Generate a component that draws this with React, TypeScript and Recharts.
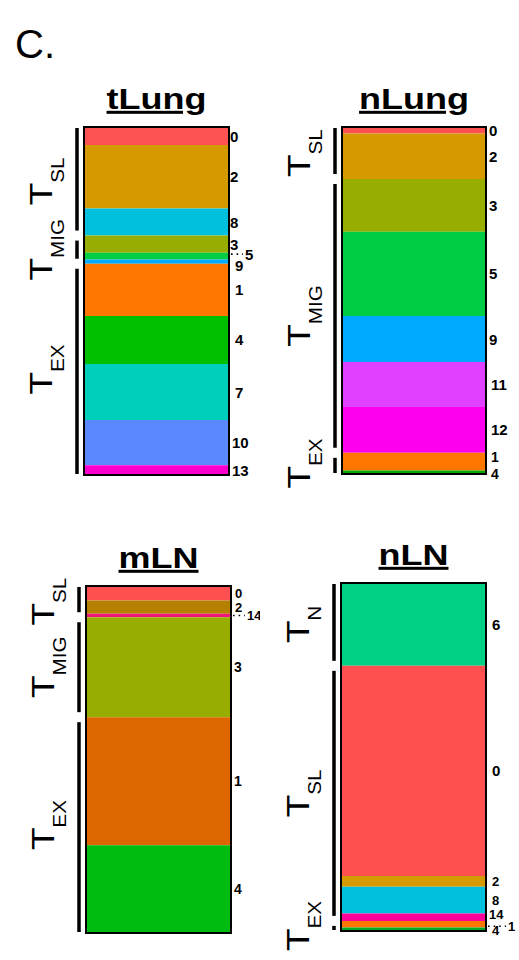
import React from 'react';
import { BarChart, Bar, XAxis, YAxis, ReferenceArea, LabelList } from 'recharts';

const FONT = '"Liberation Sans", Arial, Helvetica, sans-serif';

// clusters listed top to bottom, share in % of cells
const tLungClusters = ['0', '2', '8', '3', '5', '9', '1', '4', '7', '10', '13'];
const tLungShare = [5.2, 18.2, 7.8, 4.9, 2.0, 1.2, 15.0, 13.8, 16.1, 13.0, 2.8];
const tLungColors = ['#ff5252', '#d59a00', '#00c0dd', '#97ad00', '#00cc44', '#00aaff', '#ff7700', '#00c000', '#00d0bb', '#5c88ff', '#ff00cc'];
const tLungGroups = [
  { name: 'SL', clusters: ['0', '2', '8'] },
  { name: 'MIG', clusters: ['3', '5', '9'] },
  { name: 'EX', clusters: ['1', '4', '7', '10', '13'] },
];

const nLungClusters = ['0', '2', '3', '5', '9', '11', '12', '1', '4'];
const nLungShare = [1.9, 13.1, 15.2, 24.3, 13.2, 13.0, 13.2, 5.1, 1.0];
const nLungColors = ['#ff5050', '#d59a00', '#97ad00', '#00cc44', '#00aaff', '#e040ff', '#ff00ee', '#ff7700', '#00aa00'];
const nLungGroups = [
  { name: 'SL', clusters: ['0', '2'] },
  { name: 'MIG', clusters: ['3', '5', '9', '11', '12'] },
  { name: 'EX', clusters: ['1', '4'] },
];

const mLNClusters = ['0', '2', '14', '3', '1', '4'];
const mLNShare = [4.2, 3.8, 1.0, 28.8, 36.9, 25.3];
const mLNColors = ['#ff5050', '#b58000', '#f0157a', '#97ae00', '#dd6600', '#00bb10'];
const mLNGroups = [
  { name: 'SL', clusters: ['0', '2', '14'] },
  { name: 'MIG', clusters: ['3'] },
  { name: 'EX', clusters: ['1', '4'] },
];

const nLNClusters = ['6', '0', '2', '8', '14', '1', '4'];
const nLNShare = [23.8, 60.4, 3.1, 7.7, 2.1, 1.9, 1.0];
const nLNColors = ['#00d084', '#ff5050', '#d59a00', '#00c0dd', '#ff0099', '#ff7700', '#00aa22'];
const nLNGroups = [
  { name: 'N', clusters: ['6'] },
  { name: 'SL', clusters: ['0', '2', '8', '14'] },
  { name: 'EX', clusters: ['1', '4'] },
];

// label tweaks for crowded segments
const tLungNudge = {
  '0': { dx: 1 }, '2': { dx: 1 }, '8': { dx: 1 }, '3': { dx: 1 },
  '5': { dx: 16, dy: -2, dots: true },
  '9': { dx: 6, dy: 4 },
  '1': { dx: 6 }, '4': { dx: 6 }, '7': { dx: 6 },
};
const nLungNudge = { '11': { dx: 5 }, '12': { dx: 5 }, '1': { dx: 5, dy: -5, size: 14 }, '4': { dx: 5, dy: 2, size: 14 } };
const mLNNudge = { '0': { dx: 4, size: 13 }, '2': { dx: 4, size: 13 }, '14': { dx: 16, size: 13, dots: true } };
const nLNNudge = {
  '6': { dx: 6 }, '0': { dx: 6 },
  '2': { dx: 6, size: 13 }, '8': { dx: 6, size: 13 },
  '14': { dx: 3, dy: -3, size: 13 },
  '1': { dx: 22, dy: 2, size: 13, dots: true },
  '4': { dx: 6, dy: 1, size: 13 },
};

const TitleTick = (props: any) => {
  const { x, y, payload } = props;
  return (
    <g transform={`translate(${x},${y - 18}) scale(1.2,1)`}>
      <text textAnchor="middle" fontSize={30} fontWeight="bold" fontFamily={FONT} fill="#000" textDecoration="underline">
        {payload.value}
      </text>
    </g>
  );
};

const segLabel = (cluster: string, nudge: any, size: number) => (props: any) => {
  const vb = props.viewBox && props.viewBox.width !== undefined ? props.viewBox : props;
  const right = vb.x + vb.width;
  const cy = vb.y + vb.height / 2 + (nudge?.dy ?? 0);
  const dx = nudge?.dx ?? 3;
  return (
    <g>
      {nudge?.dots && (
        <line x1={right + 2} x2={right + dx - 2} y1={cy} y2={cy} stroke="#000" strokeWidth={1.6} strokeDasharray="1.6 4" />
      )}
      <text x={right + dx} y={cy} dominantBaseline="central" fontSize={nudge?.size ?? size} fontWeight="bold" fontFamily={FONT} fill="#000">
        {cluster}
      </text>
    </g>
  );
};

const Bracket = (props: any) => {
  const { x, y, height, name, first, last } = props;
  const top = Math.min(y, y + height);
  const bottom = Math.max(y, y + height);
  const y1 = top + (first ? 1 : 5);
  const y2 = bottom - (last ? 1 : 5);
  const bx = x - 7;
  const cy = (top + bottom) / 2;
  return (
    <g>
      <line x1={bx} x2={bx} y1={y1} y2={y2} stroke="#000" strokeWidth={3.5} />
      <text
        transform={`translate(${bx - 25},${cy}) rotate(-90) scale(1.15,1)`}
        textAnchor="middle"
        fontSize={32}
        fontFamily={FONT}
        fill="#000"
      >
        T<tspan fontSize={18} dy={12}>{name}</tspan>
      </text>
    </g>
  );
};

type PanelProps = {
  sample: string;
  clusters: string[];
  share: number[];
  colors: string[];
  groups: { name: string; clusters: string[] }[];
  nudge: any;
  labelSize: number;
  box: { left: number; top: number; width: number; height: number };
  margin: { top: number; right: number; bottom: number; left: number };
};

const Panel = ({ sample, clusters, share, colors, groups, nudge, labelSize, box, margin }: PanelProps) => {
  const row: any = { sample };
  clusters.forEach((c, i) => (row[`c${c}`] = share[i]));

  let acc = 0;
  const spans = groups.map((g) => {
    const start = acc;
    g.clusters.forEach((c) => (acc += share[clusters.indexOf(c)]));
    return { name: g.name, start, end: acc };
  });

  return (
    <div style={{ position: 'absolute', left: box.left, top: box.top }}>
      <BarChart width={box.width} height={box.height} data={[row]} margin={margin} barCategoryGap={0}>
        <XAxis
          dataKey="sample"
          orientation="top"
          height={30}
          axisLine={false}
          tickLine={false}
          tickSize={0}
          tickMargin={0}
          interval={0}
          tick={TitleTick}
        />
        <YAxis type="number" domain={[0, 100]} reversed hide />
        {clusters.map((c, i) => (
          <Bar key={c} dataKey={`c${c}`} stackId="s" fill={colors[i]} isAnimationActive={false}>
            <LabelList dataKey={`c${c}`} content={segLabel(c, nudge[c], labelSize)} />
          </Bar>
        ))}
        {spans.map((s, i) => (
          <ReferenceArea
            key={s.name}
            y1={s.start}
            y2={s.end}
            fill="none"
            stroke="none"
            ifOverflow="visible"
            shape={(p: any) => <Bracket {...p} name={s.name} first={i === 0} last={i === spans.length - 1} />}
          />
        ))}
        <ReferenceArea y1={0} y2={100} fill="none" fillOpacity={0} stroke="#000" strokeWidth={2} ifOverflow="visible" zIndex={600} />
      </BarChart>
    </div>
  );
};

export default function App() {
  return (
    <div style={{ position: 'absolute', left: 0, top: 0, width: 519, height: 960, background: '#fff', overflow: 'hidden' }}>
      <div style={{ position: 'absolute', left: 15, top: 24, fontFamily: FONT, fontSize: 40, lineHeight: '40px' }}>C.</div>
      <Panel
        sample="tLung"
        clusters={tLungClusters}
        share={tLungShare}
        colors={tLungColors}
        groups={tLungGroups}
        nudge={tLungNudge}
        labelSize={15}
        box={{ left: 0, top: 60, width: 260, height: 430 }}
        margin={{ top: 37, right: 31, bottom: 15, left: 84 }}
      />
      <Panel
        sample="nLung"
        clusters={nLungClusters}
        share={nLungShare}
        colors={nLungColors}
        groups={nLungGroups}
        nudge={nLungNudge}
        labelSize={15}
        box={{ left: 260, top: 60, width: 259, height: 430 }}
        margin={{ top: 37, right: 33, bottom: 16, left: 82 }}
      />
      <Panel
        sample="mLN"
        clusters={mLNClusters}
        share={mLNShare}
        colors={mLNColors}
        groups={mLNGroups}
        nudge={mLNNudge}
        labelSize={14}
        box={{ left: 0, top: 520, width: 260, height: 430 }}
        margin={{ top: 36, right: 29, bottom: 17, left: 86 }}
      />
      <Panel
        sample="nLN"
        clusters={nLNClusters}
        share={nLNShare}
        colors={nLNColors}
        groups={nLNGroups}
        nudge={nLNNudge}
        labelSize={15}
        box={{ left: 260, top: 520, width: 259, height: 440 }}
        margin={{ top: 33, right: 33, bottom: 29, left: 81 }}
      />
    </div>
  );
}
